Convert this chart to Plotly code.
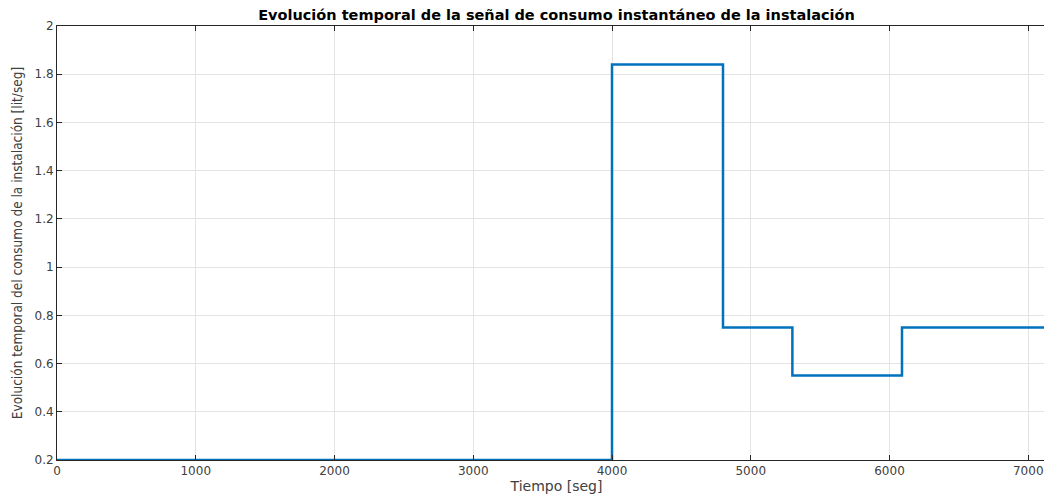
import plotly.graph_objects as go

tiempo = [0, 4000, 4800, 5300, 6090, 7200]
consumo = [0.2, 1.84, 0.75, 0.55, 0.75, 0.75]
x_ticks = [0, 1000, 2000, 3000, 4000, 5000, 6000, 7000]
y_ticks = [0.2, 0.4, 0.6, 0.8, 1.0, 1.2, 1.4, 1.6, 1.8, 2.0]
y_labels = ["0.2", "0.4", "0.6", "0.8", "1", "1.2", "1.4", "1.6", "1.8", "2"]

fig = go.Figure()
fig.add_trace(go.Scatter(
    x=tiempo, y=consumo, mode="lines", line_shape="hv",
    line=dict(color="#0072BD", width=2.5), showlegend=False,
))

font = "DejaVu Sans, sans-serif"
axis_common = dict(
    showline=True, linecolor="#262626", linewidth=1, mirror="ticks",
    ticks="inside", ticklen=5, tickcolor="#262626", tickwidth=1,
    showgrid=True, gridcolor="#e3e3e3", gridwidth=1, zeroline=False,
    tickfont=dict(family=font, size=12, color="#404040"),
    automargin=False,
)

fig.update_layout(
    width=1056, height=497,
    margin=dict(l=57, r=0, t=26, b=37),
    paper_bgcolor="white", plot_bgcolor="white",
    title=dict(
        text="<b>Evolución temporal de la señal de consumo instantáneo de la instalación</b>",
        x=0.5, xref="paper", xanchor="center", y=0.97, yanchor="middle",
        font=dict(family=font, size=14.5, color="#000000"),
    ),
    xaxis=dict(
        range=[0, 7200], tickvals=x_ticks,
        title=dict(text="Tiempo [seg]", font=dict(family=font, size=14, color="#404040"), standoff=0),
        **axis_common,
    ),
    yaxis=dict(
        range=[0.2, 2], tickvals=y_ticks, ticktext=y_labels,
        title=dict(text="Evolución temporal del consumo de la instalación [lit/seg]",
                   font=dict(family="DejaVu Sans Condensed, Liberation Sans Narrow, sans-serif", size=13.5, color="#404040"), standoff=8),
        **axis_common,
    ),
)

fig.write_html("out.html", config={"displayModeBar": False},
               post_script="document.body.style.margin='0';document.body.style.overflow='hidden';")
